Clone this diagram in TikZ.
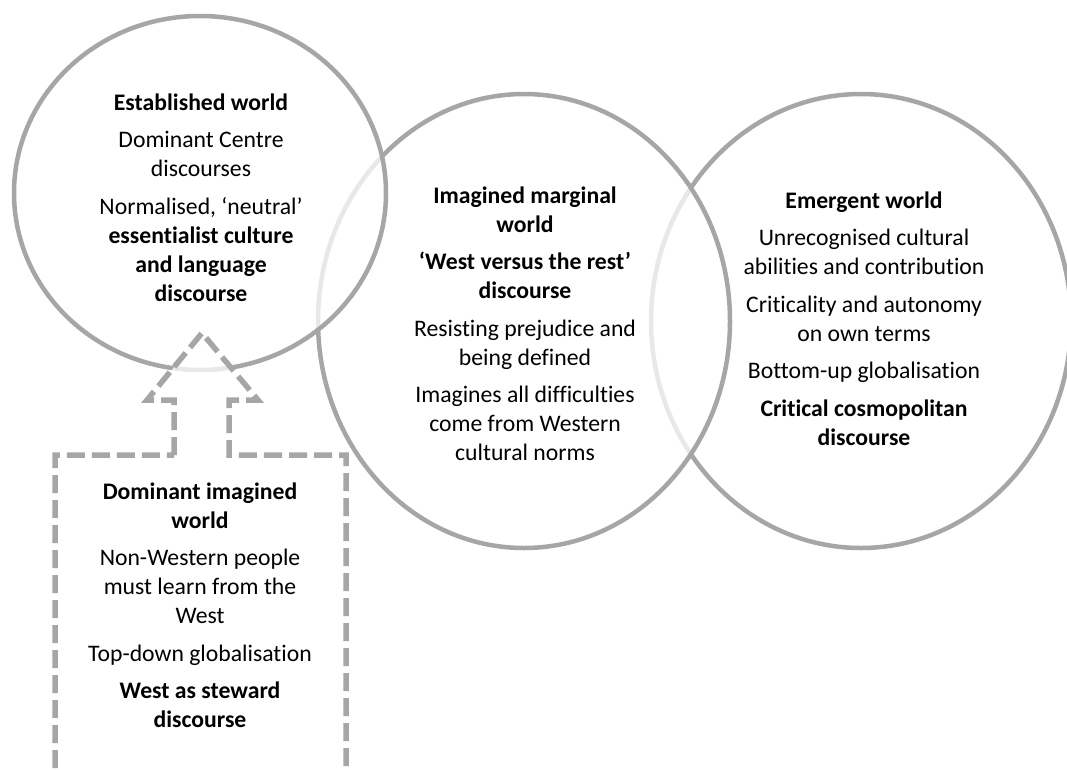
\documentclass[tikz,border=0pt]{standalone}
\usepackage{fontspec}
\setmainfont{Carlito}[Ligatures={NoCommon}]
\definecolor{ringgray}{HTML}{A6A6A6}
\begin{document}
\begin{tikzpicture}[x=1pt,y=-1pt,
  ring/.style={draw=ringgray, line width=4.5pt, fill=white, fill opacity=0.75},
  dashshape/.style={draw=ringgray, line width=5.5pt, dash pattern=on 18pt off 7pt, fill=white, fill opacity=0.75},
  txt/.style={align=center, inner sep=0pt, anchor=north, font=\fontsize{23.7}{29}\selectfont}]
\useasboundingbox (0,0) rectangle (1067,769);
\clip (0,0) rectangle (1067,769);
% rings, back to front
\draw[ring] (861,321) ellipse [x radius=210pt, y radius=227pt];
\draw[ring] (524,321) ellipse [x radius=206pt, y radius=227pt];
\draw[ring] (200,193) ellipse [x radius=186pt, y radius=177pt];
% dashed up-arrow callout
\coordinate (apex) at (202,333);
\draw[dashshape] (174,455) -- (174,400) -- (147,400) -- (apex) -- (258,400) -- (229,400) -- (229,455)
  -- (346,455) -- (346,800) -- (55,800) -- (55,455) -- cycle;
% texts
\node[txt] (t1) at (201,93.5) {\textbf{Established world}\\[8.5pt]
  Dominant Centre\\ discourses\\[8.5pt]
  Normalised, ‘neutral’\\ \textbf{essentialist culture}\\ \textbf{and language}\\ \textbf{discourse}};
\node[txt] (t2) at (525,186.5) {\textbf{Imagined marginal}\\ \textbf{world}\\[8.5pt]
  \textbf{‘West versus the rest’}\\ \textbf{discourse}\\[8.5pt]
  Resisting prejudice and\\ being defined\\[8.5pt]
  Imagines all difficulties\\ come from Western\\ cultural norms};
\node[txt] (t3) at (864,191.5) {\textbf{Emergent world}\\[8.5pt]
  Unrecognised cultural\\ abilities and contribution\\[8.5pt]
  Criticality and autonomy\\ on own terms\\[8.5pt]
  Bottom-up globalisation\\[8.5pt]
  \textbf{Critical cosmopolitan}\\ \textbf{discourse}};
\node[txt] (t4) at (200,482.5) {\textbf{Dominant imagined}\\ \textbf{world}\\[8.5pt]
  Non-Western people\\ must learn from the\\ West\\[8.5pt]
  Top-down globalisation\\[8.5pt]
  \textbf{West as steward}\\ \textbf{discourse}};
\end{tikzpicture}
\end{document}
